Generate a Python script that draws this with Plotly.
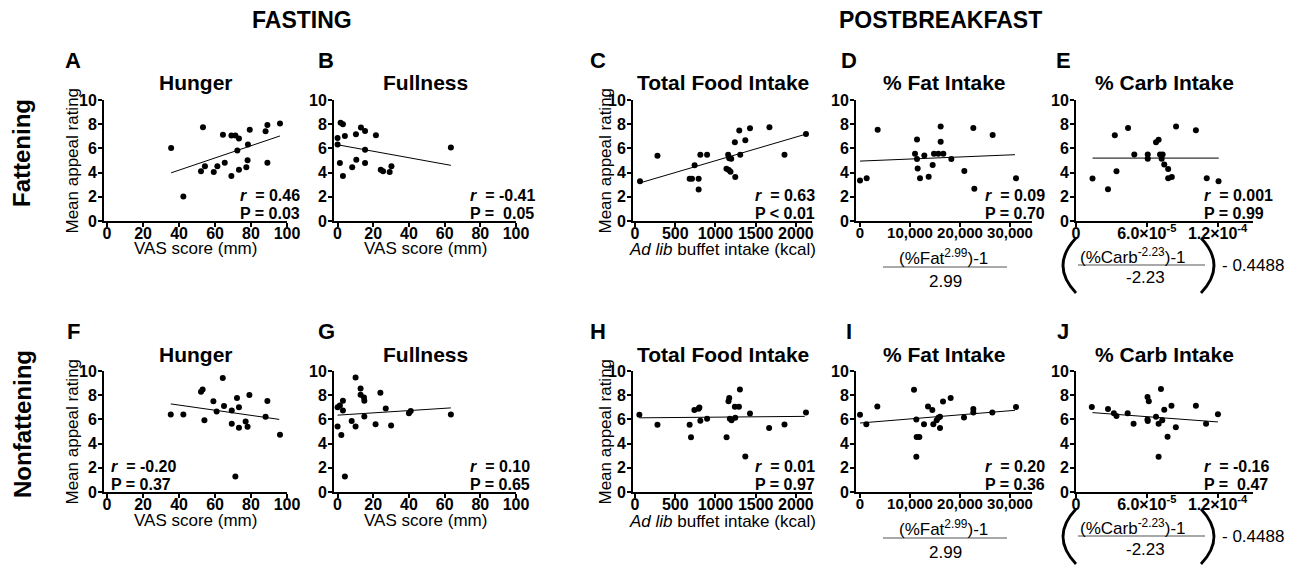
import plotly.graph_objects as go

W, H = 1296, 566
FONT = "Arial, Liberation Sans, Helvetica, sans-serif"

# ---------------- data ----------------
# Fattening / Fasting hunger
A_x = [35.6, 42.4, 53.3, 52.2, 54.4, 59.3, 61.3, 65.4, 64.4, 69.1, 69.1, 71.3, 73.3, 72.4, 73.3, 77.4, 78.1, 78.3, 79.3, 88.1, 89.1, 89.1, 96.1]
A_y = [6.04, 2.03, 7.75, 4.12, 4.53, 4.04, 4.53, 4.81, 7.12, 3.71, 7.06, 7.06, 6.81, 5.82, 4.23, 4.45, 5.03, 6.32, 7.55, 7.42, 7.94, 4.81, 8.05]
A_fit_x = [35.6, 96.1]
A_fit_y = [3.98, 7.03]

# Fattening / Fasting fullness
B_x = [0, 0, 1.7, 3.0, 4.1, 1.3, 3.0, 8.2, 10.5, 10.3, 13.1, 15.4, 15.4, 15.4, 21.5, 24.2, 25.5, 29.2, 30.2, 63.5]
B_y = [6.86, 6.33, 8.11, 8.0, 7.03, 4.8, 3.72, 4.44, 5.06, 7.17, 7.72, 7.44, 5.89, 4.8, 7.08, 4.23, 4.12, 4.04, 4.53, 6.08]
B_fit_x = [0, 63.5]
B_fit_y = [6.3, 4.6]

# Fattening / total food intake
C_x = [62, 279, 679, 708, 741, 791, 791, 812, 896, 1137, 1166, 1187, 1158, 1171, 1196, 1246, 1241, 1296, 1308, 1371, 1429, 1671, 1858, 2125]
C_y = [3.28, 5.39, 3.5, 3.5, 4.61, 3.5, 2.61, 5.47, 5.47, 4.31, 4.22, 4.08, 5.47, 5.19, 5.14, 3.64, 6.5, 7.47, 5.47, 6.67, 7.67, 7.75, 5.47, 7.2]
C_fit_x = [62, 2110]
C_fit_y = [3.15, 7.15]

# Fattening / % fat intake (transformed)
D_x = [0, 1333, 3533, 11000, 11400, 11400, 11533, 12000, 12867, 13733, 14533, 14800, 15667, 16133, 16133, 16667, 18267, 20867, 22667, 22867, 26533, 31200]
D_y = [3.34, 3.54, 7.54, 5.55, 6.74, 5.13, 4.33, 3.54, 5.41, 3.65, 4.62, 5.55, 5.55, 7.82, 6.54, 5.55, 5.13, 4.14, 7.69, 2.66, 7.11, 3.54]
D_fit_x = [0, 31000]
D_fit_y = [4.95, 5.48]

# Fattening / % carb intake (transformed)
E_x = [1.40e-5, 2.71e-5, 3.29e-5, 3.43e-5, 4.41e-5, 4.94e-5, 6.08e-5, 6.08e-5, 6.78e-5, 7.0e-5, 7.12e-5, 7.26e-5, 7.34e-5, 7.48e-5, 7.81e-5, 7.81e-5, 8.12e-5, 8.48e-5, 1.016e-4, 1.108e-4, 1.208e-4]
E_y = [3.51, 2.63, 7.09, 4.11, 7.69, 5.49, 5.49, 5.14, 6.51, 6.71, 5.49, 5.14, 5.49, 4.66, 4.29, 3.54, 3.63, 7.8, 7.49, 3.54, 3.29]
E_fit_x = [1.4e-5, 1.21e-4]
E_fit_y = [5.2, 5.2]

# Nonfattening / Fasting hunger
F_x = [35.4, 42.4, 52.2, 53.1, 54.1, 59.1, 60.9, 64.3, 65.0, 69.3, 69.3, 72.2, 73.3, 73.3, 77.0, 78.1, 79.1, 89.1, 88.1, 96.1, 71.3]
F_y = [6.4, 6.4, 8.28, 8.47, 5.94, 7.49, 6.65, 9.43, 7.11, 6.73, 5.64, 7.77, 7.0, 5.31, 5.83, 5.4, 8.01, 7.52, 6.21, 4.74, 1.28]
F_fit_x = [35.4, 95.7]
F_fit_y = [7.28, 6.0]

# Nonfattening / Fasting fullness
G_x = [0, 0, 1.3, 2.1, 3.0, 3.0, 4.1, 7.9, 10.1, 10.1, 12.9, 12.9, 14.8, 15.0, 15.0, 21.3, 24, 27, 30, 40, 41, 63.5]
G_y = [5.42, 7.0, 7.14, 4.71, 7.55, 6.73, 1.28, 5.86, 5.42, 9.46, 8.56, 8.04, 7.82, 7.55, 6.24, 5.6, 8.2, 6.9, 5.5, 6.5, 6.7, 6.4]
G_fit_x = [0, 63.5]
G_fit_y = [6.35, 6.95]

# Nonfattening / total food intake
H_x = [54, 279, 679, 696, 738, 791, 800, 812, 896, 1138, 1162, 1171, 1179, 1200, 1246, 1241, 1292, 1304, 1371, 1429, 1667, 1858, 2125]
H_y = [6.38, 5.55, 5.55, 4.53, 6.77, 6.88, 6.99, 5.88, 6.05, 4.53, 7.49, 7.76, 6.05, 5.94, 6.13, 7.04, 7.04, 8.48, 2.93, 6.49, 5.28, 5.58, 6.58]
H_fit_x = [54, 2110]
H_fit_y = [6.13, 6.25]

# Nonfattening / % fat intake
I_x = [0, 1267, 3467, 10800, 11267, 11333, 11867, 11267, 12800, 13600, 14467, 14667, 15333, 15667, 16000, 16000, 16600, 18133, 20800, 22667, 22667, 26467, 31200]
I_y = [6.39, 5.6, 7.06, 8.46, 5.99, 4.54, 4.54, 2.91, 5.6, 7.06, 6.78, 5.6, 5.94, 6.13, 6.22, 5.29, 7.48, 7.76, 6.16, 6.56, 6.85, 6.56, 7.02]
I_fit_x = [0, 31000]
I_fit_y = [5.7, 6.75]

# Nonfattening / % carb intake
J_x = [1.34e-5, 2.71e-5, 3.21e-5, 3.43e-5, 4.38e-5, 4.88e-5, 6.06e-5, 6.17e-5, 6.06e-5, 6.08e-5, 6.78e-5, 7.0e-5, 7.0e-5, 7.2e-5, 7.31e-5, 7.48e-5, 7.76e-5, 8.09e-5, 8.46e-5, 1.016e-4, 1.102e-4, 1.203e-4]
J_y = [7.02, 6.85, 6.5, 6.28, 6.5, 5.64, 7.85, 7.51, 5.99, 5.87, 6.22, 5.64, 2.92, 8.51, 5.93, 6.79, 4.56, 7.13, 5.36, 7.13, 5.64, 6.42]
J_fit_x = [1.4e-5, 1.203e-4]
J_fit_y = [6.56, 5.79]

panel_letters = ["A", "B", "C", "D", "E", "F", "G", "H", "I", "J"]
panel_titles = ["Hunger", "Fullness", "Total Food Intake", "% Fat Intake", "% Carb Intake"] * 2
r_texts = ["0.46", "-0.41", "0.63", "0.09", "0.001", "-0.20", "0.10", "0.01", "0.20", "-0.16"]
p_texts = ["P = 0.03", "P =&nbsp; 0.05", "P < 0.01", "P = 0.70", "P = 0.99",
           "P = 0.37", "P = 0.65", "P = 0.97", "P = 0.36", "P =&nbsp; 0.47"]

y_ticks = [0, 2, 4, 6, 8, 10]
y_labels = ["0", "2", "4", "6", "8", "10"]
vas_ticks = [0, 20, 40, 60, 80, 100]
vas_labels = ["0", "20", "40", "60", "80", "100"]
kcal_ticks = [0, 500, 1000, 1500, 2000]
kcal_labels = ["0", "500", "1000", "1500", "2000"]
fat_ticks = [0, 10000, 20000, 30000]
fat_labels = ["0", "10,000", "20,000", "30,000"]
carb_ticks = [0, 6.0e-5, 1.2e-4]
carb_labels = ["0", "6.0×10<sup>-5</sup>", "1.2×10<sup>-4</sup>"]

series = [(A_x, A_y, A_fit_x, A_fit_y), (B_x, B_y, B_fit_x, B_fit_y), (C_x, C_y, C_fit_x, C_fit_y),
          (D_x, D_y, D_fit_x, D_fit_y), (E_x, E_y, E_fit_x, E_fit_y), (F_x, F_y, F_fit_x, F_fit_y),
          (G_x, G_y, G_fit_x, G_fit_y), (H_x, H_y, H_fit_x, H_fit_y), (I_x, I_y, I_fit_x, I_fit_y),
          (J_x, J_y, J_fit_x, J_fit_y)]

# ---------------- layout geometry (pixels) ----------------
col_px = [(104, 287), (334, 516), (633, 812), (856, 1032), (1076, 1253)]
col_range = [[-1.7, 100], [-2, 100], [-25, 2200], [-800, 34400], [0, 1.5e-4]]
col_ticks = [(vas_ticks, vas_labels), (vas_ticks, vas_labels), (kcal_ticks, kcal_labels),
             (fat_ticks, fat_labels), (carb_ticks, carb_labels)]
col_tick_size = [16, 16, 16, 15, 16]
row_px = [(100, 221), (371, 492)]
ROW_OFF = 271
text_left = [238, 468, 753, 983, 1202]


def px(x):
    return x / W


def py(y):
    return 1 - y / H


def bold(lst):
    return ["<b>" + s + "</b>" for s in lst]


fig = go.Figure()
layout = dict(width=W, height=H, margin=dict(l=0, r=0, t=0, b=0, autoexpand=False),
              paper_bgcolor="white", plot_bgcolor="white", showlegend=False,
              font=dict(family=FONT, color="black"))
annotations = []
shapes = []


def ann(x, y, text, size, bold_=False, angle=0, xanchor="center", yanchor="middle"):
    if bold_:
        text = "<b>" + text + "</b>"
    annotations.append(dict(x=px(x), y=py(y), xref="paper", yref="paper", text=text,
                            showarrow=False, textangle=angle, xanchor=xanchor, yanchor=yanchor,
                            font=dict(family=FONT, size=size, color="black")))


def paren(xtop, ytop, ybot, xctrl):
    # curved bracket drawn as a quadratic path in paper coordinates
    ymid = (ytop + ybot) / 2
    path = (f"M {px(xtop)},{py(ytop)} Q {px(xctrl)},{py(ymid)} {px(xtop)},{py(ybot)}")
    shapes.append(dict(type="path", xref="paper", yref="paper", path=path,
                       line=dict(color="black", width=2.8)))


for i, (sx, sy, fx, fy) in enumerate(series):
    row, col = divmod(i, 5)
    k = i + 1
    xa = "x" if k == 1 else f"x{k}"
    ya = "y" if k == 1 else f"y{k}"
    fig.add_trace(go.Scatter(x=sx, y=sy, mode="markers", xaxis=xa, yaxis=ya,
                             marker=dict(color="black", size=6), cliponaxis=False))
    fig.add_trace(go.Scatter(x=fx, y=fy, mode="lines", xaxis=xa, yaxis=ya,
                             line=dict(color="black", width=1)))
    x0, x1 = col_px[col]
    y0, y1 = row_px[row]
    tv, tt = col_ticks[col]
    common = dict(showline=True, linecolor="black", linewidth=1.8, ticks="outside", ticklen=4,
                  tickwidth=1.5, tickcolor="black", showgrid=False, zeroline=False)
    xdict = dict(common, domain=[px(x0), px(x1)], range=col_range[col], anchor=ya,
                 tickmode="array", tickvals=tv, ticktext=bold(tt), tickangle=0,
                 tickfont=dict(family=FONT, size=col_tick_size[col], color="black"),
                 ticklabelstandoff=-7)
    ydict = dict(common, domain=[py(y1), py(y0)], range=[0, 10], anchor=xa,
                 tickmode="array", tickvals=y_ticks, ticktext=bold(y_labels),
                 tickfont=dict(family=FONT, size=16, color="black"),
                 ticklabelstandoff=-2)
    layout["xaxis" if k == 1 else f"xaxis{k}"] = xdict
    layout["yaxis" if k == 1 else f"yaxis{k}"] = ydict

    off = row * ROW_OFF
    # panel letter & title
    letter_x = [73, 326, 598, 849, 1063][col]
    ann(letter_x, 61 + off, panel_letters[i], 22, bold_=True)
    ann((x0 + x1) / 2, 83 + off, panel_titles[i], 21, bold_=True)
    # r and P
    tx = text_left[col] if not (row == 1 and col == 0) else 109
    ann(tx, 195 + off, "<i>r</i>&nbsp; = " + r_texts[i], 16, bold_=True, xanchor="left")
    ann(tx, 213 + off, p_texts[i], 16, bold_=True, xanchor="left")

    # x-axis titles
    tshift = 1 if row == 1 else 0
    if col in (0, 1):
        ann((x0 + x1) / 2, 248 + off + tshift, "VAS score (mm)", 17)
    elif col == 2:
        ann((x0 + x1) / 2, 249 + off + tshift, "<i>Ad lib</i> buffet intake (kcal)", 17)
    elif col == 3:
        ann(943, 257 + off, "(%Fat<sup>2.99</sup>)-1", 17)
        ann(945, 281 + off, "2.99", 17)
        shapes.append(dict(type="line", xref="paper", yref="paper", x0=px(883), x1=px(1007),
                           y0=py(267 + off), y1=py(267 + off), line=dict(color="#555", width=1.2)))
    else:
        paren(1076, 238 + off, 293 + off, 1050)
        paren(1201, 238 + off, 293 + off, 1227)
        ann(1133, 256 + off, "(%Carb<sup>-2.23</sup>)-1", 17)
        ann(1145, 278 + off, "-2.23", 17)
        ann(1220, 265 + off, "- 0.4488", 17, xanchor="left")
        shapes.append(dict(type="line", xref="paper", yref="paper", x0=px(1078), x1=px(1205),
                           y0=py(265 + off), y1=py(265 + off), line=dict(color="#555", width=1.2)))

    # y-axis titles
    if col in (0, 2):
        ytx = 72 if col == 0 else 605
        ann(ytx, (y0 + y1) / 2, "Mean appeal rating", 17, angle=-90)

# headings
ann(302, 20, "FASTING", 23, bold_=True)
ann(940, 20, "POSTBREAKFAST", 23, bold_=True)
ann(22, 153, "Fattening", 24, bold_=True, angle=-90)
ann(22, 424, "Nonfattening", 24, bold_=True, angle=-90)

layout["annotations"] = annotations
layout["shapes"] = shapes
fig.update_layout(**layout)
fig.write_html("out.html", config={"displayModeBar": False},
               post_script="document.body.style.margin='0px';document.body.style.overflow='hidden';")
